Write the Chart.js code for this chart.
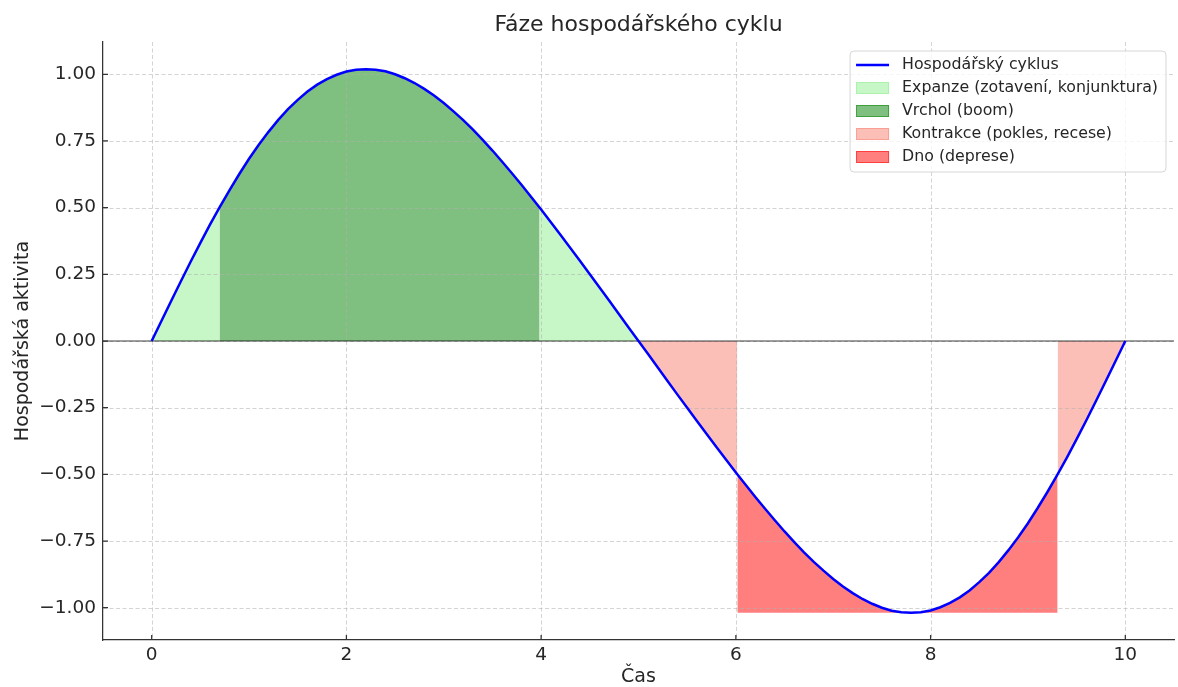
<!DOCTYPE html>
<html lang="cs">

<head>
    <meta charset="UTF-8">
    <title>Fáze hospodářského cyklu</title>
    <script src="https://cdn.jsdelivr.net/npm/chart.js@4.4.1/dist/chart.umd.min.js"></script>
    <style>
        body {
            margin: 0;
            background: #fff;
        }
    </style>
</head>

<body>
    <canvas id="graf" width="1178" height="687"></canvas>

<script>
    // cas a hodnoty krivky (krok 0.1)
    const casX = [
        0.0, 0.1, 0.2, 0.3, 0.4, 0.5, 0.6, 0.7, 0.8, 0.9,
        1.0, 1.1, 1.2, 1.3, 1.4, 1.5, 1.6, 1.7, 1.8, 1.9,
        2.0, 2.1, 2.2, 2.3, 2.4, 2.5, 2.6, 2.7, 2.8, 2.9,
        3.0, 3.1, 3.2, 3.3, 3.4, 3.5, 3.6, 3.7, 3.8, 3.9,
        4.0, 4.1, 4.2, 4.3, 4.4, 4.5, 4.6, 4.7, 4.8, 4.9,
        5.0, 5.1, 5.2, 5.3, 5.4, 5.5, 5.6, 5.7, 5.8, 5.9,
        6.0, 6.1, 6.2, 6.3, 6.4, 6.5, 6.6, 6.7, 6.8, 6.9,
        7.0, 7.1, 7.2, 7.3, 7.4, 7.5, 7.6, 7.7, 7.8, 7.9,
        8.0, 8.1, 8.2, 8.3, 8.4, 8.5, 8.6, 8.7, 8.8, 8.9,
        9.0, 9.1, 9.2, 9.3, 9.4, 9.5, 9.6, 9.7, 9.8, 9.9,
        10.0
    ];
    const aktivita = [
        0.000, 0.075, 0.150, 0.224, 0.297, 0.368, 0.437, 0.503, 0.566, 0.626,
        0.683, 0.736, 0.784, 0.829, 0.869, 0.904, 0.935, 0.961, 0.982, 0.998,
        1.010, 1.017, 1.019, 1.017, 1.011, 1.000, 0.985, 0.967, 0.945, 0.920,
        0.892, 0.861, 0.828, 0.792, 0.754, 0.714, 0.672, 0.629, 0.585, 0.539,
        0.493, 0.445, 0.397, 0.349, 0.300, 0.250, 0.201, 0.151, 0.100, 0.050,
        0.000, -0.050, -0.100, -0.151, -0.201, -0.250, -0.300, -0.349, -0.397, -0.445,
        -0.493, -0.539, -0.585, -0.629, -0.672, -0.714, -0.754, -0.792, -0.828, -0.861,
        -0.892, -0.920, -0.945, -0.967, -0.985, -1.000, -1.011, -1.017, -1.019, -1.017,
        -1.010, -0.998, -0.982, -0.961, -0.935, -0.904, -0.869, -0.829, -0.784, -0.736,
        -0.683, -0.626, -0.566, -0.503, -0.437, -0.368, -0.297, -0.224, -0.150, -0.075,
        0.000
    ];

    const xTicky = [0, 2, 4, 6, 8, 10];
    const yTicky = [-1, -0.75, -0.5, -0.25, 0, 0.25, 0.5, 0.75, 1];

    // faze: nazev a pasmo hodnot, ve kterem se vyplnuje
    const fazeNazvy = ['Expanze (zotavení, konjunktura)', 'Vrchol (boom)', 'Kontrakce (pokles, recese)', 'Dno (deprese)'];
    const fazeOd = [0, 0.5, -0.5, -Infinity];
    const fazeDo = [0.5, Infinity, 0, -0.5];

    const fazeBarvy = ['rgba(144, 238, 144, 0.5)', 'rgba(0, 128, 0, 0.5)', 'rgba(250, 128, 114, 0.5)', 'rgba(255, 0, 0, 0.5)'];
    const pismo = 'DejaVu Sans';
    const textBarva = '#262626';

    const yMin = Math.min(...aktivita);
    const yMax = Math.max(...aktivita);
    const okraj = (yMax - yMin) * 0.05;

    // bod, kde krivka opousti pasmo (mezi bodem uvnitr a bodem venku)
    function prusecik(iUvnitr, iVenku, lo, hi) {
        const y0 = aktivita[iUvnitr], y1 = aktivita[iVenku];
        const x0 = casX[iUvnitr], x1 = casX[iVenku];
        const hladina = y1 >= hi ? hi : lo;
        return { x: x0 + (hladina - y0) / (y1 - y0) * (x1 - x0), y: hladina };
    }

    function useky(lo, hi) {
        const vysledek = [];
        let cur = null;
        for (let i = 0; i < casX.length; i++) {
            const y = aktivita[i];
            if (y > lo && y < hi) {
                if (!cur) {
                    cur = [];
                    if (i > 0) cur.push(prusecik(i, i - 1, lo, hi));
                }
                cur.push({ x: casX[i], y: y });
            } else if (cur) {
                cur.push(prusecik(i - 1, i, lo, hi));
                vysledek.push(cur);
                cur = null;
            }
        }
        if (cur) vysledek.push(cur);
        return vysledek;
    }

    const datasets = [{
        label: 'Hospodářský cyklus',
        data: casX.map((x, i) => ({ x: x, y: aktivita[i] })),
        borderColor: 'blue',
        borderWidth: 2.5,
        pointRadius: 0,
        fill: false,
        tension: 0,
        vLegende: true
    }];

    fazeNazvy.forEach((nazev, f) => {
        useky(fazeOd[f], fazeDo[f]).forEach((usek, r) => {
            datasets.push({
                label: nazev,
                data: usek,
                backgroundColor: fazeBarvy[f],
                borderColor: 'rgba(0, 0, 0, 0)',
                borderWidth: 0,
                pointRadius: 0,
                tension: 0,
                fill: f === 3 ? { value: yMin } : 'origin',
                vLegende: r === 0
            });
        });
    });

    function zaoblenyObdelnik(ctx, x, y, w, h, r) {
        ctx.beginPath();
        ctx.moveTo(x + r, y);
        ctx.arcTo(x + w, y, x + w, y + h, r);
        ctx.arcTo(x + w, y + h, x, y + h, r);
        ctx.arcTo(x, y + h, x, y, r);
        ctx.arcTo(x, y, x + w, y, r);
        ctx.closePath();
    }

    const kresba = {
        id: 'kresba',
        beforeDatasetsDraw(chart) {
            const { ctx, chartArea: a, scales: { x, y } } = chart;
            ctx.save();
            // mrizka pres vyplne, pod krivkou
            ctx.strokeStyle = 'rgba(176, 176, 176, 0.55)';
            ctx.lineWidth = 1;
            ctx.setLineDash([4, 2.5]);
            ctx.beginPath();
            xTicky.forEach(v => {
                const px = Math.round(x.getPixelForValue(v)) + 0.5;
                ctx.moveTo(px, a.top);
                ctx.lineTo(px, a.bottom);
            });
            yTicky.forEach(v => {
                const py = Math.round(y.getPixelForValue(v)) + 0.5;
                ctx.moveTo(a.left, py);
                ctx.lineTo(a.right, py);
            });
            ctx.stroke();

            ctx.setLineDash([]);
            ctx.strokeStyle = 'rgba(0, 0, 0, 0.5)';
            ctx.lineWidth = 1.3;
            const y0 = y.getPixelForValue(0);
            ctx.beginPath();
            ctx.moveTo(a.left, y0);
            ctx.lineTo(a.right, y0);
            ctx.stroke();
            ctx.restore();
        },
        afterDraw(chart) {
            const { ctx, chartArea: a, scales: { x, y } } = chart;
            ctx.save();

            // znacky dovnitr grafu
            ctx.strokeStyle = '#333';
            ctx.lineWidth = 1.25;
            ctx.beginPath();
            xTicky.forEach(v => {
                const px = x.getPixelForValue(v);
                ctx.moveTo(px, a.bottom);
                ctx.lineTo(px, a.bottom - 5);
            });
            yTicky.forEach(v => {
                const py = y.getPixelForValue(v);
                ctx.moveTo(a.left, py);
                ctx.lineTo(a.left + 5, py);
            });
            ctx.stroke();

            // titulek
            ctx.fillStyle = textBarva;
            ctx.font = '22px ' + pismo;
            ctx.textAlign = 'center';
            ctx.textBaseline = 'middle';
            ctx.fillText('Fáze hospodářského cyklu', (a.left + a.right) / 2, 25);

            // legenda
            const polozky = chart.data.datasets.filter(d => d.vLegende);
            ctx.font = '15.8px ' + pismo;
            const sirkaTextu = Math.max(...polozky.map(p => ctx.measureText(p.label).width));
            const w = 52 + sirkaTextu + 8;
            const h = polozky.length * 23 + 6;
            const bx = a.right - 8 - w;
            const by = a.top + 9;
            zaoblenyObdelnik(ctx, bx, by, w, h, 4);
            ctx.fillStyle = 'rgba(255, 255, 255, 0.8)';
            ctx.fill();
            ctx.strokeStyle = '#d6d6d6';
            ctx.lineWidth = 1;
            ctx.stroke();

            ctx.textAlign = 'left';
            polozky.forEach((p, k) => {
                const cy = by + 14 + k * 23;
                if (p.fill === false) {
                    ctx.strokeStyle = p.borderColor;
                    ctx.lineWidth = p.borderWidth;
                    ctx.beginPath();
                    ctx.moveTo(bx + 6, cy);
                    ctx.lineTo(bx + 39, cy);
                    ctx.stroke();
                } else {
                    ctx.fillStyle = p.backgroundColor;
                    ctx.strokeStyle = p.backgroundColor;
                    ctx.lineWidth = 1;
                    ctx.fillRect(bx + 6, cy - 6, 33, 12);
                    ctx.strokeRect(bx + 6.5, cy - 5.5, 32, 11);
                }
                ctx.fillStyle = textBarva;
                ctx.fillText(p.label, bx + 52, cy);
            });
            ctx.restore();
        }
    };

    const config = {
        type: 'line',
        data: { datasets: datasets },
        options: {
            responsive: false,
            animation: false,
            devicePixelRatio: 1,
            layout: { padding: { top: 42, right: 4, left: 0, bottom: 0 } },
            plugins: {
                legend: { display: false },
                tooltip: { enabled: false },
                filler: { drawTime: 'beforeDatasetsDraw' }
            },
            scales: {
                x: {
                    type: 'linear',
                    min: -0.5,
                    max: 10.5,
                    afterBuildTicks: s => { s.ticks = xTicky.map(v => ({ value: v })); },
                    afterFit: s => { s.height = 47; },
                    grid: { display: false, drawTicks: false },
                    border: { display: true, color: '#333', width: 1.25 },
                    ticks: {
                        padding: 4,
                        color: textBarva,
                        font: { family: pismo, size: 18.5 },
                        maxRotation: 0,
                        autoSkip: false,
                        callback: v => String(v)
                    },
                    title: {
                        display: true,
                        text: 'Čas',
                        color: textBarva,
                        font: { family: pismo, size: 19, lineHeight: 1 },
                        padding: 0
                    }
                },
                y: {
                    type: 'linear',
                    min: yMin - okraj,
                    max: yMax + okraj,
                    afterBuildTicks: s => { s.ticks = yTicky.map(v => ({ value: v })); },
                    afterFit: s => { s.width = 103; },
                    grid: { display: false, drawTicks: false },
                    border: { display: true, color: '#333', width: 1.25 },
                    ticks: {
                        padding: 7,
                        color: textBarva,
                        font: { family: pismo, size: 18.5 },
                        autoSkip: false,
                        callback: v => (v < 0 ? '\u2212' : '') + Math.abs(v).toFixed(2)
                    },
                    title: {
                        display: true,
                        text: 'Hospodářská aktivita',
                        color: textBarva,
                        font: { family: pismo, size: 19, lineHeight: 1.2 },
                        padding: { top: 12, bottom: 0 }
                    }
                }
            }
        },
        plugins: [kresba]
    };

    new Chart(document.getElementById('graf').getContext('2d'), config);
</script>
</body>

</html>
